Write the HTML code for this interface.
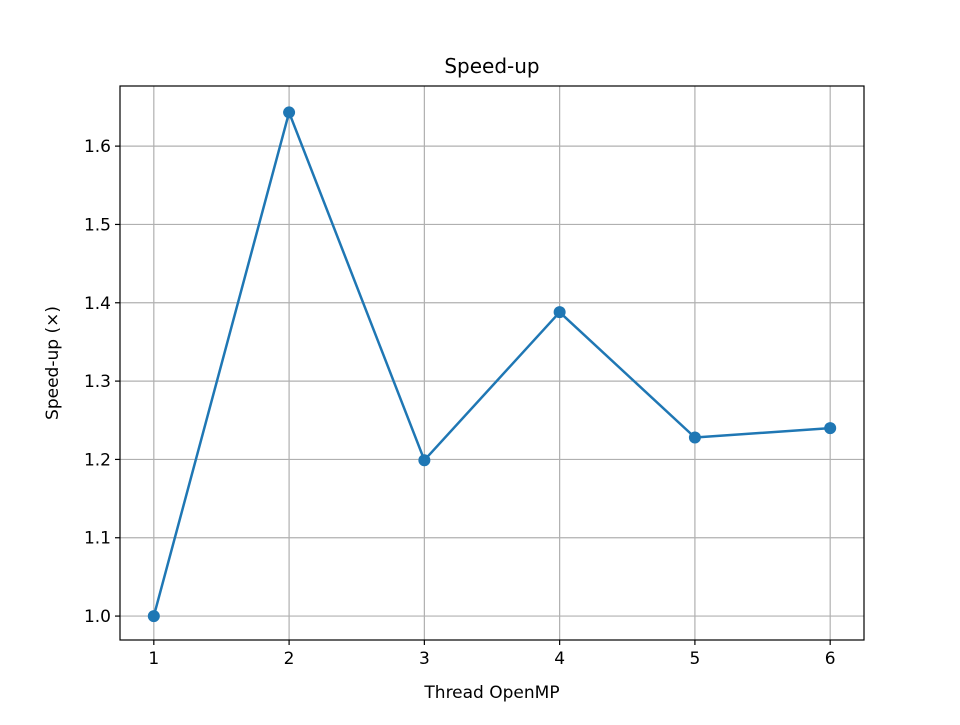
<!DOCTYPE html>
<html><head><meta charset="utf-8"><style>
body{margin:0;background:#fff;}
svg text{font-family:"DejaVu Sans","Liberation Sans",sans-serif;fill:#000;}
</style></head><body>
<svg id="chart" width="960" height="720" xmlns="http://www.w3.org/2000/svg">
<rect width="960" height="720" fill="#fff"/>
<g id="grid"></g>
<g id="series"></g>
<rect x="120" y="86" width="744" height="554" fill="none" stroke="#000" stroke-width="1.2"/>
<g id="ticks"></g>
<text x="492" y="73" font-size="20" text-anchor="middle">Speed-up</text>
<text x="492" y="698" font-size="17" text-anchor="middle">Thread OpenMP</text>
<text transform="translate(58,363) rotate(-90)" font-size="17" text-anchor="middle">Speed-up (×)</text>
</svg>
<script>
const threads=[1,2,3,4,5,6];
const speedups=[1.0,1.643,1.199,1.388,1.228,1.240];
const yTicks=[1.0,1.1,1.2,1.3,1.4,1.5,1.6];
const xTicks=[1,2,3,4,5,6];
const L=120,R=864,T=86,B=640;
const ymin=Math.min(...speedups),ymax=Math.max(...speedups),ym=(ymax-ymin)*0.05;
const y0=ymin-ym*0.97,y1=ymax+ym*1.03;
const xmin=Math.min(...threads),xmax=Math.max(...threads),xm=(xmax-xmin)*0.05;
const x0=xmin-xm,x1=xmax+xm;
const X=v=>L+(v-x0)/(x1-x0)*(R-L);
const Y=v=>B-(v-y0)/(y1-y0)*(B-T)+0.5;
const NS="http://www.w3.org/2000/svg";
function mk(tag,attrs,parent){const e=document.createElementNS(NS,tag);for(const k in attrs)e.setAttribute(k,attrs[k]);document.getElementById(parent).appendChild(e);return e;}
xTicks.forEach(t=>{
 const g=mk('line',{x1:X(t),x2:X(t),y1:T,y2:B,stroke:'#b0b0b0','stroke-width':1.2},'grid');
 
 
 const tk=mk('line',{x1:X(t),x2:X(t),y1:B,y2:B+5,stroke:'#000','stroke-width':1.2},'ticks');
 
 
 const tx=mk('text',{x:X(t),y:B+24,'font-size':17,'text-anchor':'middle'},'ticks');
 tx.textContent=t;
 
 
});
yTicks.forEach(t=>{
 const g=mk('line',{x1:L,x2:R,y1:Y(t),y2:Y(t),stroke:'#b0b0b0','stroke-width':1.2},'grid');
 
 
 const tk=mk('line',{x1:L-5,x2:L,y1:Y(t),y2:Y(t),stroke:'#000','stroke-width':1.2},'ticks');
 
 
 const tx=mk('text',{x:L-9,y:Y(t)+6,'font-size':17,'text-anchor':'end'},'ticks');
 tx.textContent=t.toFixed(1);
 
 
});
const pts=threads.map((t,i)=>X(t)+','+Y(speedups[i])).join(' ');
const line=mk('polyline',{points:pts,fill:'none',stroke:'#1f77b4','stroke-width':2.5,'stroke-linejoin':'round'},'series');


threads.forEach((t,i)=>{
 const c=mk('circle',{cx:X(t),cy:Y(speedups[i]),r:6,fill:'#1f77b4'},'series');
 
 
});
</script>
</body></html>
